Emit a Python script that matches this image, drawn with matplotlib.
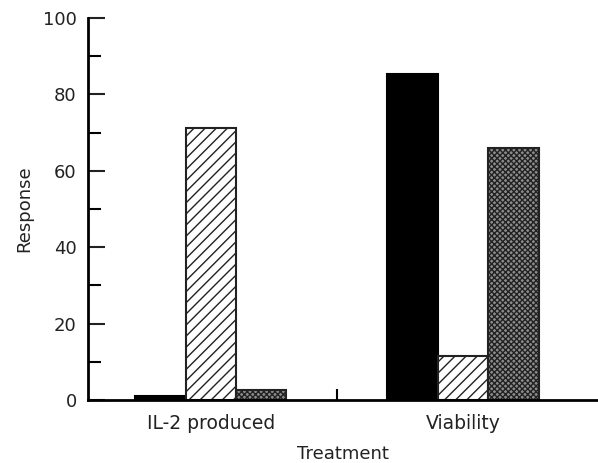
import matplotlib
matplotlib.use("Agg")
import matplotlib.pyplot as plt
import numpy as np

categories = ["IL-2 produced", "Viability"]
series_black = [1.0, 85.3]
series_hatch = [71.2, 11.6]
series_dot = [2.6, 66.0]
yticks = [0, 20, 40, 60, 80, 100]

plt.rcParams['hatch.linewidth'] = 1.0
fig = plt.figure(figsize=(5.98, 4.63), dpi=100)
ax = fig.add_axes([0.147, 0.136, 0.853, 0.825])

x = np.arange(len(categories))
w = 0.2
ax.bar(x - w, series_black, w, color='black', edgecolor='black', linewidth=1.5)
ax.bar(x, series_hatch, w, color='white', edgecolor='#222222', hatch='///', linewidth=1.5)
ax.bar(x + w, series_dot, w, color='#8c8c8c', edgecolor='#222222', hatch='xxxxxx', linewidth=1.5)

ax.set_xlim(-0.488, 1.536)
ax.set_ylim(0, 100)
for s in ['top', 'right']:
    ax.spines[s].set_visible(False)
ax.spines['left'].set_linewidth(2)
ax.spines['bottom'].set_linewidth(2)
ax.set_yticks(yticks)
ax.set_yticks([10, 30, 50, 70, 90], minor=True)
ax.tick_params(axis='y', which='major', direction='in', length=12, width=1.5, labelsize=13, pad=8, colors='#222222')
ax.tick_params(axis='y', which='minor', direction='in', length=9, width=1.5)
ax.set_xticks(x)
ax.set_xticklabels(categories)
ax.tick_params(axis='x', which='major', length=0, labelsize=13.5, pad=10, colors='#222222')
ax.set_xticks([0.5], minor=True)
ax.tick_params(axis='x', which='minor', direction='in', length=8, width=1.5)
ax.set_ylabel("Response", fontsize=13, labelpad=7, color='#222222')
ax.set_xlabel("Treatment", fontsize=13, labelpad=9, color='#222222')

fig.savefig("out.png", dpi=100)
